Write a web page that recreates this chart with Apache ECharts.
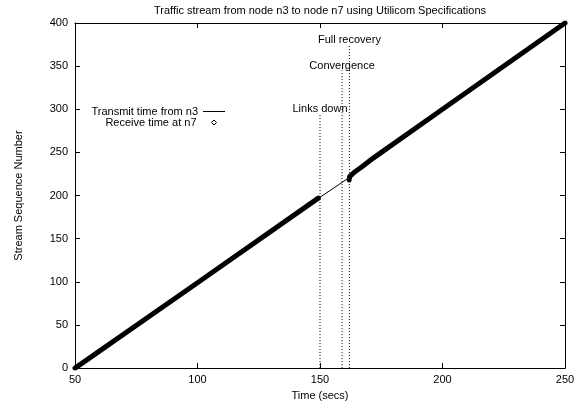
<!DOCTYPE html>
<html>
<head>
<meta charset="utf-8">
<script src="https://cdn.jsdelivr.net/npm/echarts@6/dist/echarts.min.js"></script>
<style>html,body{margin:0;padding:0;background:#fff;}#c{width:582px;height:406px;}</style>
</head>
<body>
<div id="c"></div>
<script>
// ---- data ----
var titleText = 'Traffic stream from node n3 to node n7 using Utilicom Specifications';
var xName = 'Time (secs)';
var yName = 'Stream Sequence Number';
var xTicks = [50, 100, 150, 200, 250];
var yTicks = [0, 50, 100, 150, 200, 250, 300, 350, 400];

// transmit line (time, sequence)
var transmitTime = [50, 150, 162, 250];
var transmitSeq  = [0, 198, 221, 400];

// receive band before links down
var recvTimeA = [50, 100, 149.3];
var recvSeqA  = [0, 99, 197];
// receive band after recovery
var recvTimeB = [161.9, 162.1, 164, 167, 172, 200, 250];
var recvSeqB  = [218, 222, 227, 233, 244, 300, 400];

// event markers
var eventNames = ['Links down', 'Convergence', 'Full recovery'];
var eventTime  = [150, 159, 162];
var eventTop   = [295, 345, 375];
var eventLabelY = [300, 350, 380];

var legendNames = ['Transmit time from n3', 'Receive time at n7'];

function pairs(xs, ys) { return xs.map(function (x, i) { return [x, ys[i]]; }); }

var FONT = "'Liberation Sans', Arial, Helvetica, sans-serif";
var chart = echarts.init(document.getElementById('c'), null, { renderer: 'canvas' });

var series = [];
series.push({
  name: legendNames[0], type: 'line', data: pairs(transmitTime, transmitSeq),
  symbol: 'none', lineStyle: { color: '#000', width: 1 }, itemStyle: { color: '#000' },
  z: 2, silent: true, animation: false
});
[pairs(recvTimeA, recvSeqA), pairs(recvTimeB, recvSeqB)].forEach(function (d) {
  series.push({
    name: legendNames[1], type: 'line', data: d, symbol: 'none',
    lineStyle: { color: '#000', width: 5, cap: 'round', join: 'round' },
    itemStyle: { color: '#fff', borderColor: '#000', borderWidth: 1 },
    z: 3, silent: true, animation: false
  });
});
eventTime.forEach(function (t, i) {
  series.push({
    type: 'line', data: [[t, 0], [t, eventTop[i]]], symbol: 'none',
    lineStyle: { color: '#000', width: 1, type: [1, 2] },
    z: 1, silent: true, animation: false
  });
});
series.push({
  type: 'scatter', symbolSize: 0, silent: true, animation: false, z: 5,
  itemStyle: { opacity: 1, color: '#000' },
  data: eventTime.map(function (t, i) { return [t, eventLabelY[i], eventNames[i]]; }),
  label: {
    show: true, position: 'inside', color: '#000', fontSize: 11, fontFamily: FONT,
    formatter: function (p) { return p.data[2]; }
  }
});

var axisCommon = {
  axisLine: { show: true, onZero: false, lineStyle: { color: '#000', width: 1 } },
  axisTick: { show: true, inside: true, length: 5, lineStyle: { color: '#000' } },
  splitLine: { show: false }
};

var option = {
  animation: false,
  backgroundColor: '#fff',
  color: ['#000'],
  textStyle: { fontFamily: FONT },
  title: {
    text: titleText, left: 154, top: 5, padding: 0,
    textStyle: { fontSize: 11, fontWeight: 'normal', color: '#000', fontFamily: FONT }
  },
  legend: [
    {
      data: [{ name: legendNames[0], icon: 'path://M0,0H22V1H0Z', itemStyle: { color: '#000' } }],
      right: 357, top: 106, padding: 0, align: 'right', itemWidth: 22, itemHeight: 1,
      selectedMode: false, textStyle: { fontSize: 11, color: '#000', fontFamily: FONT }
    },
    {
      data: [{ name: legendNames[1], icon: 'diamond', itemStyle: { color: '#fff', borderColor: '#000', borderWidth: 1 } }],
      right: 365, top: 117, padding: 0, align: 'right', itemWidth: 5, itemHeight: 5,
      selectedMode: false,
      textStyle: { fontSize: 11, color: '#000', fontFamily: FONT, padding: [0, 10, 0, 0] }
    }
  ],
  grid: { left: 75, right: 17, top: 23, bottom: 31, containLabel: false },
  xAxis: [
    Object.assign({}, axisCommon, {
      type: 'value', min: xTicks[0], max: xTicks[xTicks.length - 1], interval: xTicks[1] - xTicks[0],
      position: 'bottom', name: xName, nameLocation: 'middle', nameGap: 16,
      nameTextStyle: { fontSize: 11, color: '#000', fontFamily: FONT },
      axisLabel: { fontSize: 11, color: '#000', margin: 6, fontFamily: FONT }
    }),
    Object.assign({}, axisCommon, {
      type: 'value', min: xTicks[0], max: xTicks[xTicks.length - 1], interval: xTicks[1] - xTicks[0],
      position: 'top', axisLabel: { show: false }
    })
  ],
  yAxis: [
    Object.assign({}, axisCommon, {
      type: 'value', min: yTicks[0], max: yTicks[yTicks.length - 1], interval: yTicks[1] - yTicks[0],
      position: 'left', name: yName, nameLocation: 'middle', nameGap: 51,
      nameTextStyle: { fontSize: 11, color: '#000', fontFamily: FONT },
      axisLabel: { fontSize: 11, color: '#000', margin: 7, fontFamily: FONT }
    }),
    Object.assign({}, axisCommon, {
      type: 'value', min: yTicks[0], max: yTicks[yTicks.length - 1], interval: yTicks[1] - yTicks[0],
      position: 'right', axisLabel: { show: false }
    })
  ],
  series: series
};
chart.setOption(option);
</script>
</body>
</html>
